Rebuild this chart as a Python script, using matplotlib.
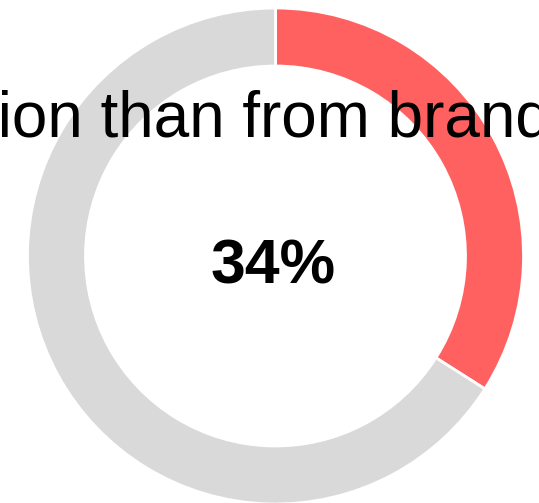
import matplotlib.pyplot as plt

# Donut values (percent)
labels = ["Recommendation", "Other"]
values = [34, 66]
colors = ["#FF6161", "#D9D9D9"]
center_label = "34%"
title_prefix = "recommendat"
title_text = "More people buy on recommendation than from brands"

W, H = 539, 503
fig = plt.figure(figsize=(W / 100, H / 100), dpi=100)
ax = fig.add_axes([0, 0, 1, 1])

ax.pie(values, colors=colors, startangle=90, counterclock=False,
       center=(275.5, 247), radius=248,
       wedgeprops=dict(width=58, edgecolor="white", linewidth=2))
ax.set_xlim(0, W)
ax.set_ylim(0, H)
ax.set_aspect("equal")
ax.axis("off")

# Title is wider than the figure; place it so "ion than from branc" is visible
font = dict(family="Liberation Sans", fontsize=46)
full = title_text
prefix = full[:full.index(title_prefix) + len(title_prefix)]
r = fig.canvas.get_renderer()
tmp = ax.text(0, 0, prefix, **font)
pw = tmp.get_window_extent(renderer=r).width
tmp.remove()
ax.text(-pw - 2, 366, full, ha="left", va="baseline", color="black", **font)

ax.text(273, 220, center_label, ha="center", va="baseline",
        family="Liberation Sans", fontsize=45, fontweight="bold")

fig.savefig("out.png", dpi=100)
